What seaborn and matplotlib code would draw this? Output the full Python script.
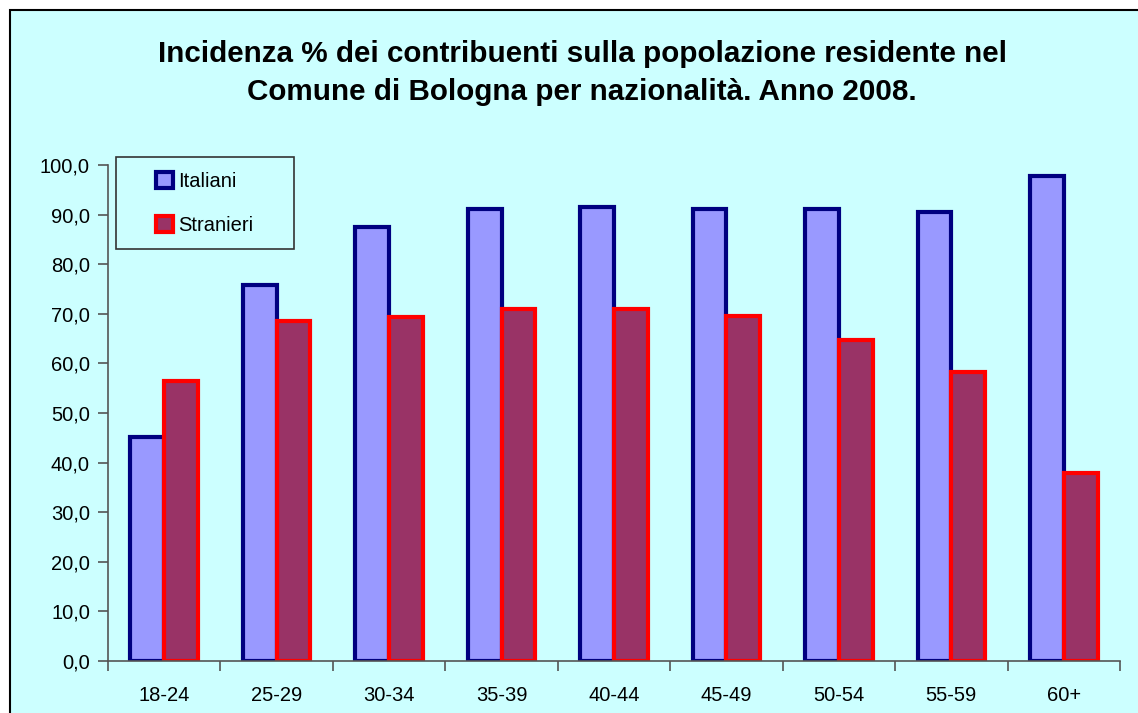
import pandas as pd
import matplotlib
matplotlib.use("Agg")
import matplotlib.pyplot as plt
import seaborn as sns
from matplotlib.ticker import FuncFormatter, MultipleLocator
from matplotlib.patches import Rectangle, Patch

# data
eta = ["18-24", "25-29", "30-34", "35-39", "40-44", "45-49", "50-54", "55-59", "60+"]
italiani = [45.2, 75.8, 87.5, 91.1, 91.5, 91.2, 91.2, 90.5, 97.7]
stranieri = [56.5, 68.6, 69.4, 71.0, 71.0, 69.5, 64.7, 58.2, 37.9]
serie = ["Italiani", "Stranieri"]

df = pd.DataFrame({
    "eta": eta * 2,
    "valore": italiani + stranieri,
    "serie": [serie[0]] * len(eta) + [serie[1]] * len(eta),
})

sns.set_style("white")
plt.rcParams["font.family"] = ["Liberation Sans", "DejaVu Sans"]
plt.rcParams["text.color"] = "black"
plt.rcParams["xtick.color"] = "black"
plt.rcParams["ytick.color"] = "black"

bg = "#CCFFFF"
fill = {"Italiani": "#9999FF", "Stranieri": "#993366"}
edge = {"Italiani": "#000080", "Stranieri": "#FF0000"}

fig = plt.figure(figsize=(11.38, 7.13), dpi=100)
fig.patch.set_facecolor("white")
# chart area frame (cut off on right and bottom like the original)
fig.patches.append(Rectangle((10 / 1138, -0.1), 1.2, 1 - 10 / 713 + 0.1,
                             transform=fig.transFigure, facecolor=bg,
                             edgecolor="black", linewidth=1.5, zorder=-5))

ax = fig.add_axes([108 / 1138, 1 - 661 / 713, (1120 - 108) / 1138, (661 - 165) / 713])
ax.set_zorder(2)
ax.set_facecolor(bg)

sns.barplot(data=df, x="eta", y="valore", hue="serie", order=eta, hue_order=serie,
            width=0.6, ax=ax, saturation=1, legend=False)

for cont, s in zip(ax.containers, serie):
    for p in cont:
        p.set_facecolor(fill[s])
        p.set_edgecolor(edge[s])
        p.set_linewidth(3)

ax.set_ylim(0, 100)
ax.set_xlim(-0.5, len(eta) - 0.5)
ax.yaxis.set_major_locator(MultipleLocator(10))
ax.yaxis.set_major_formatter(FuncFormatter(lambda v, _: f"{v:.1f}".replace(".", ",")))
ax.set_xlabel("")
ax.set_ylabel("")

for sp in ["top", "right"]:
    ax.spines[sp].set_visible(False)
for sp in ["left", "bottom"]:
    ax.spines[sp].set_color("#555555")
    ax.spines[sp].set_linewidth(1.2)

ax.tick_params(axis="y", direction="out", length=7, width=1.2, color="#555555",
               labelsize=14.5, pad=6, left=True)
ax.tick_params(axis="x", which="major", length=0, labelsize=14.5, pad=18)
ax.set_xticks([i - 0.5 for i in range(len(eta) + 1)], minor=True)
ax.tick_params(axis="x", which="minor", direction="out", length=7, width=1.2,
               color="#555555", bottom=True)

# legend box + entries
ax.add_patch(Rectangle((0.0076, 0.8306), 0.1762, 0.1854, transform=ax.transAxes,
                       facecolor=bg, edgecolor="#333333", linewidth=1.2,
                       clip_on=False, zorder=5))
handles = [Patch(facecolor=fill[s], edgecolor=edge[s], linewidth=3, label=s) for s in serie]
leg = ax.legend(handles=handles, loc="upper left", bbox_to_anchor=(0.0474, 0.986),
                frameon=False, fontsize=14.5, handlelength=0.85,
                handleheight=0.85, handletextpad=0.25, labelspacing=1.25,
                borderpad=0, borderaxespad=0)
leg.set_zorder(6)

fig.text(0.5115, 1 - 73 / 713, "Incidenza % dei contribuenti sulla popolazione residente nel\n"
         "Comune di Bologna per nazionalità. Anno 2008.",
         ha="center", va="center", fontsize=21.3, fontweight="bold", linespacing=1.42)

fig.savefig("out.png", dpi=100, facecolor=fig.get_facecolor())
